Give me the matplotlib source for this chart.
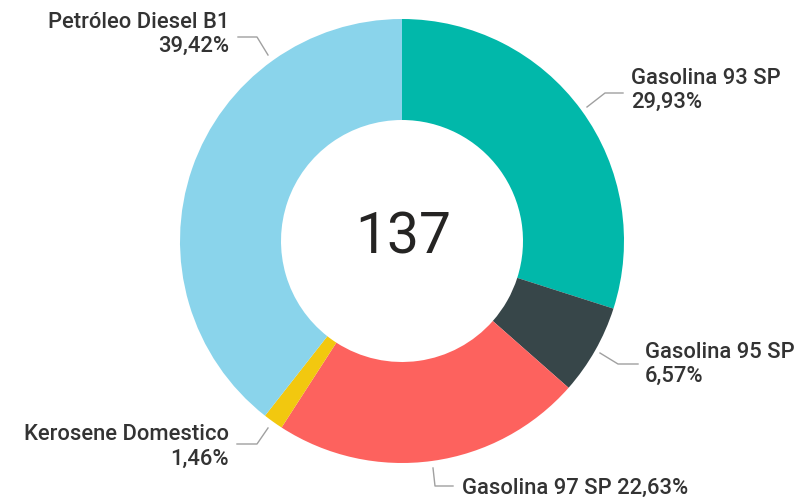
import matplotlib.pyplot as plt

# Datos del gráfico
productos = ["Gasolina 93 SP", "Gasolina 95 SP", "Gasolina 97 SP",
             "Kerosene Domestico", "Petróleo Diesel B1"]
porcentajes = [29.93, 6.57, 22.63, 1.46, 39.42]
colores = ["#01B8AA", "#374649", "#FD625E", "#F2C80F", "#8AD4EB"]
total = 137

W, H = 806, 499
fig = plt.figure(figsize=(W / 100, H / 100), dpi=100)
ax = fig.add_axes([0, 0, 1, 1])

# pie en coordenadas de pixel (eje y invertido -> counterclock=True gira a la derecha)
cx, cy, r = 402, 241, 222
ax.pie(porcentajes, colors=colores, startangle=-90, counterclock=True,
       center=(cx, cy), radius=r, frame=True,
       wedgeprops=dict(width=r - 121, edgecolor="none"))
ax.set_xlim(0, W)
ax.set_ylim(H, 0)
ax.set_aspect("equal")
ax.axis("off")

ax.text(cx + 1, cy - 3, str(total), ha="center", va="center", fontsize=41,
        color="#252423", family="Roboto")

txt = dict(fontsize=15.8, color="#333333", family="Roboto", fontweight="medium")
linea = dict(color="#A0A0A0", lw=1)

def fmt(v):
    return f"{v:.2f}".replace(".", ",") + "%"

# Petróleo Diesel B1
ax.text(229, 22, productos[4], ha="right", va="center", **txt)
ax.text(229, 46, fmt(porcentajes[4]), ha="right", va="center", **txt)
ax.plot([238, 257, 268], [37, 37, 55], **linea)

# Gasolina 93 SP
ax.text(631, 78, productos[0], ha="left", va="center", **txt)
ax.text(631, 102, fmt(porcentajes[0]), ha="left", va="center", **txt)
ax.plot([587, 605, 623], [107, 93, 93], **linea)

# Gasolina 95 SP
ax.text(645, 352, productos[1], ha="left", va="center", **txt)
ax.text(645, 376, fmt(porcentajes[1]), ha="left", va="center", **txt)
ax.plot([600, 618, 638], [353, 364, 364], **linea)

# Kerosene Domestico
ax.text(229, 435, productos[3], ha="right", va="center", **txt)
ax.text(229, 459, fmt(porcentajes[3]), ha="right", va="center", **txt)
ax.plot([237, 257, 268], [444, 444, 428], **linea)

# Gasolina 97 SP
ax.text(462, 488, productos[2] + " " + fmt(porcentajes[2]), ha="left", va="center", **txt)
ax.plot([433, 435, 453], [468, 486, 486], **linea)

fig.savefig("out.png", dpi=100)
